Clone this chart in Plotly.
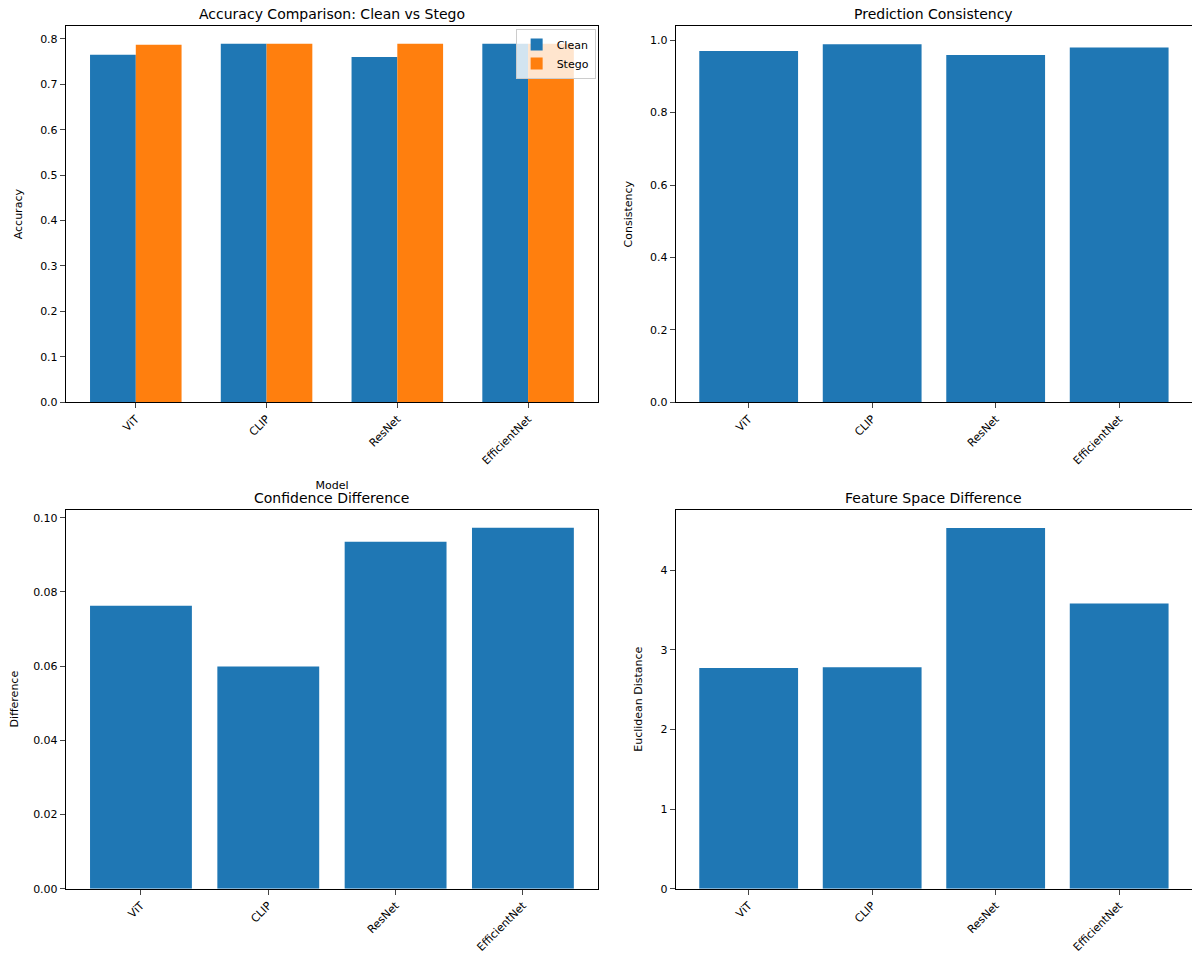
import plotly.graph_objects as go
from plotly.subplots import make_subplots

models = ["ViT", "CLIP", "ResNet", "EfficientNet"]
clean_acc = [0.765, 0.789, 0.760, 0.789]
stego_acc = [0.787, 0.789, 0.789, 0.789]
consistency = [0.970, 0.989, 0.959, 0.980]
conf_diff = [0.0763, 0.0599, 0.0935, 0.0973]
feat_dist = [2.77, 2.78, 4.53, 3.58]
titles = ["Accuracy Comparison: Clean vs Stego", "Prediction Consistency",
          "Confidence Difference", "Feature Space Difference"]

blue = "#1f77b4"
orange = "#ff7f0e"

fig = make_subplots(rows=2, cols=2)

fig.add_trace(go.Bar(x=models, y=clean_acc, name="Clean", marker_color=blue, width=0.35, offset=-0.35), 1, 1)
fig.add_trace(go.Bar(x=models, y=stego_acc, name="Stego", marker_color=orange, width=0.35, offset=0), 1, 1)
fig.add_trace(go.Bar(x=models, y=consistency, marker_color=blue, width=0.8, showlegend=False), 1, 2)
fig.add_trace(go.Bar(x=models, y=conf_diff, marker_color=blue, width=0.8, showlegend=False), 2, 1)
fig.add_trace(go.Bar(x=models, y=feat_dist, marker_color=blue, width=0.8, showlegend=False), 2, 2)
fig.update_traces(marker_line_width=0)

ax = dict(showline=True, mirror=True, linecolor="black", linewidth=1, ticks="outside",
          showgrid=False, zeroline=False, tickfont=dict(size=11, color="black"))
fig.update_xaxes(**ax, tickangle=-45)
fig.update_yaxes(**ax)

xl = [0.0482, 0.4917]
xr = [0.5565, 0.9867]
yt = [0.5854, 0.981]
yb = [0.0738, 0.4726]

fig.update_layout(
    xaxis=dict(domain=xl, range=[-0.535, 3.535], title=dict(text="Model", font=dict(size=11))),
    xaxis2=dict(domain=xr, range=[-0.59, 3.59]),
    xaxis3=dict(domain=xl, range=[-0.59, 3.59]),
    xaxis4=dict(domain=xr, range=[-0.59, 3.59]),
    yaxis=dict(domain=yt, range=[0, 0.828], dtick=0.1, tickformat=".1f",
               title=dict(text="Accuracy", font=dict(size=11))),
    yaxis2=dict(domain=yt, range=[0, 1.039], dtick=0.2, tickformat=".1f",
                title=dict(text="Consistency", font=dict(size=11))),
    yaxis3=dict(domain=yb, range=[0, 0.1022], dtick=0.02, tickformat=".2f",
                title=dict(text="Difference", font=dict(size=11))),
    yaxis4=dict(domain=yb, range=[0, 4.76], dtick=1,
                title=dict(text="Euclidean Distance", font=dict(size=11))),
    width=1200, height=958, margin=dict(l=0, r=0, t=0, b=0),
    plot_bgcolor="white", paper_bgcolor="white",
    font=dict(family="DejaVu Sans", color="black"),
    legend=dict(x=xl[1] - 0.002, y=yt[1] - 0.003, xanchor="right", yanchor="top", bordercolor="#ccc",
                borderwidth=1, bgcolor="rgba(255,255,255,0.8)", font=dict(size=11)),
)
for t, xd, yd in zip(titles, [xl, xr, xl, xr], [yt, yt, yb, yb]):
    fig.add_annotation(text=t, x=(xd[0] + xd[1]) / 2, y=yd[1], xref="paper", yref="paper",
                       xanchor="center", yanchor="bottom", showarrow=False, yshift=2,
                       font=dict(size=14, color="black"))

fig.write_html("out.html")
